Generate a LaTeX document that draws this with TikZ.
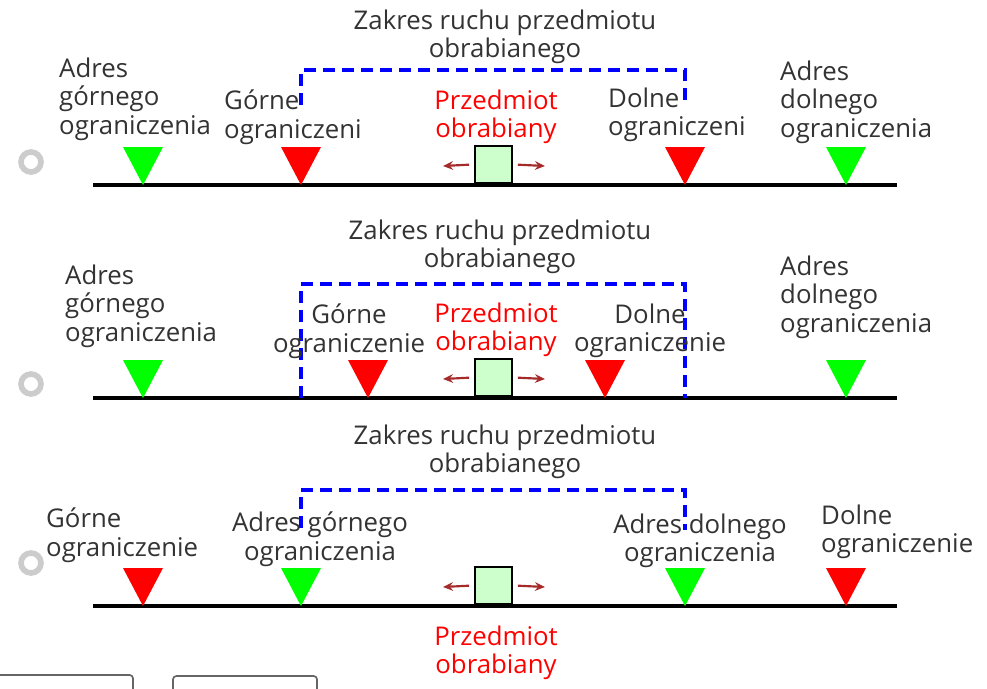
\documentclass[tikz,border=0pt]{standalone}
\usepackage{fontspec}
\setmainfont{Open Sans}
\usepackage{xcolor}
\usetikzlibrary{arrows.meta}

\definecolor{txtgray}{HTML}{333333}
\definecolor{limred}{HTML}{FF0000}
\definecolor{limgreen}{HTML}{00FF00}
\definecolor{movered}{HTML}{A52A2A}
\definecolor{piecefill}{HTML}{CCFFCC}
\definecolor{rangeblue}{HTML}{0000FF}

% limit marker: tip on the axis
\newcommand{\limtri}[3]{\fill[#3] (#1,#2) -- ++(-20,-38) -- ++(40,0) -- cycle;}

\begin{document}
\begin{tikzpicture}
		[
			x=0.3mm,y=-0.3mm,
			every node/.style={
					font=\fontsize{22}{24}\selectfont,text=txtgray,inner sep=0pt},
			lbl/.style={anchor=north west,align=left,execute at begin node=\strut},
			clbl/.style={anchor=north,align=center,execute at begin node=\strut},
			piece/.style={text=limred},
			zakres/.style={rangeblue,line width=0.95mm,dash pattern=on 3.6mm off 2.1mm},
			axis/.style={line width=1.2mm},
			move/.style={movered,line width=0.65mm,-{Stealth[length=3mm,width=2.6mm]}},
			radio/.style={circle,minimum size=6mm,draw=gray!40,line width=1.7mm,fill=white},
			button/.style={draw=gray!80!black,line width=0.5mm,rounded corners=1mm,fill=white}]
		\useasboundingbox (0,0) rectangle (987,688);

		% axes, workpiece and its moves
		\foreach \row/\y/\ry in {1/185/162,2/398/384,3/606/563}
			{
				\draw[axis] (93,\y) -- (897,\y);
				\node[radio] (Radio\row) at (31,\ry) {};
				\node[draw=black,line width=0.5mm,fill=piecefill,minimum size=37*0.3mm,anchor=south]
				(Box\row) at (493.5,\y-1) {};
				\coordinate (MoveL\row) at (443,\y-19);
				\coordinate (MoveR\row) at (545,\y-19);
				\draw[move] ([xshift=-1.5mm]Box\row.west) -- (MoveL\row);
				\draw[move] ([xshift=1.5mm]Box\row.east) -- (MoveR\row);
			}

		% row 1
		\limtri{143}{185}{limgreen}
		\limtri{301}{185}{limred}
		\limtri{685}{185}{limred}
		\limtri{846}{185}{limgreen}
		\draw[zakres] (301,105) -- (301,70) -- (685,70) -- (685,105);
		\node[clbl] (Zakres1) at (505,10) {Zakres ruchu przedmiotu\\obrabianego};
		\node[lbl] (AdrG1) at (59,58) {Adres\\górnego\\ograniczenia};
		\node[lbl] (Gor1) at (224,90) {Górne\\ograniczeni};
		\node[clbl,piece] (Przed1) at (496,90) {Przedmiot\\obrabiany};
		\node[lbl] (Dol1) at (608,88) {Dolne\\ograniczeni};
		\node[lbl] (AdrD1) at (780,61) {Adres\\dolnego\\ograniczenia};

		% row 2
		\limtri{143}{398}{limgreen}
		\limtri{368}{398}{limred}
		\limtri{605}{398}{limred}
		\limtri{846}{398}{limgreen}
		\draw[zakres] (301,398) -- (301,284) -- (685,284) -- (685,398);
		\node[clbl] (Zakres2) at (500,220) {Zakres ruchu przedmiotu\\obrabianego};
		\node[lbl] (AdrG2) at (65,265) {Adres\\górnego\\ograniczenia};
		\node[clbl] (Gor2) at (349,304) {Górne\\ograniczenie};
		\node[clbl,piece] (Przed2) at (496,303) {Przedmiot\\obrabiany};
		\node[clbl] (Dol2) at (650,304) {Dolne\\ograniczenie};
		\node[lbl] (AdrD2) at (780,256) {Adres\\dolnego\\ograniczenia};

		% row 3
		\limtri{143}{606}{limred}
		\limtri{301}{606}{limgreen}
		\limtri{685}{606}{limgreen}
		\limtri{846}{606}{limred}
		\draw[zakres] (301,528) -- (301,490) -- (685,490) -- (685,530);
		\node[clbl] (Zakres3) at (505,425) {Zakres ruchu przedmiotu\\obrabianego};
		\node[lbl] (Gor3) at (46,508) {Górne\\ograniczenie};
		\node[clbl] (AdrG3) at (320,512) {Adres górnego\\ograniczenia};
		\node[clbl] (AdrD3) at (700,514) {Adres dolnego\\ograniczenia};
		\node[lbl] (Dol3) at (821,505) {Dolne\\ograniczenie};
		\node[clbl,piece] (Przed3) at (496,626) {Przedmiot\\obrabiany};

		% buttons, cut by the lower edge
		\begin{scope}
			\clip (0,0) rectangle (987,688);
			\draw[button] (-10,675) rectangle (133,720);
			\draw[button] (173,676) rectangle (317,720);
		\end{scope}
	\end{tikzpicture}
\end{document}
